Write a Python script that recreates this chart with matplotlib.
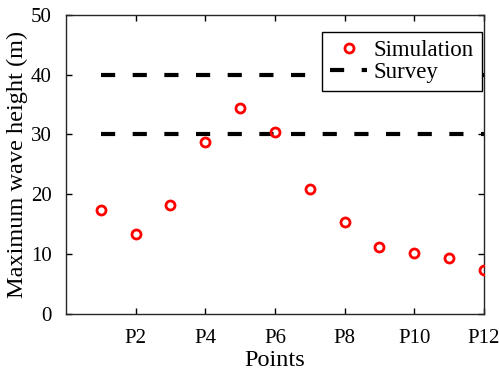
import matplotlib
matplotlib.use("Agg")
import matplotlib.pyplot as plt

points = list(range(1, 13))
simulation = [17.4, 13.4, 18.2, 28.7, 34.4, 30.4, 20.8, 15.3, 11.1, 10.2, 9.4, 7.4]
survey_levels = [30, 40]
tick_pos = [2, 4, 6, 8, 10, 12]
tick_labels = ["P2", "P4", "P6", "P8", "P10", "P12"]

plt.rcParams['font.family'] = ['Liberation Serif', 'DejaVu Serif']
fig = plt.figure(figsize=(4.99, 3.71), dpi=100)
ax = fig.add_axes([0.132, 0.154, 0.838, 0.806])

ax.plot(points, simulation, linestyle='none', marker='o', markersize=6.5,
        markerfacecolor='none', markeredgecolor='red', markeredgewidth=2,
        label='Simulation', zorder=3)
for i, lv in enumerate(survey_levels):
    ax.plot([points[0], points[-1]], [lv, lv], color='black', linestyle=(0, (3.4, 4.2)),
            linewidth=3, label='Survey' if i == 0 else None, zorder=2)

ax.set_xlim(0, 12)
ax.set_ylim(0, 50)
ax.set_xticks(tick_pos)
ax.set_xticklabels(tick_labels)
ax.set_yticks([0, 10, 20, 30, 40, 50])
ax.tick_params(direction='in', top=True, right=True, labelsize=15, length=4, width=1)
ax.tick_params(axis='x', pad=11)
ax.tick_params(axis='y', pad=10)
for s in ax.spines.values():
    s.set_linewidth(1)
    s.set_color('#262626')
ax.set_xlabel('Points', fontsize=17.5, labelpad=1)
ax.set_ylabel('Maximum wave height (m)', fontsize=17.5)
ax.yaxis.set_label_coords(-0.09, 0.5)

leg = ax.legend(loc='upper right', bbox_to_anchor=(0.995, 0.943), fontsize=16.5,
                frameon=True, fancybox=False, edgecolor='black', framealpha=1,
                handlelength=1.6, handletextpad=0.3, borderpad=0.35, labelspacing=0.05,
                borderaxespad=0)
leg.get_frame().set_linewidth(1)

fig.savefig('out.png', dpi=100)
